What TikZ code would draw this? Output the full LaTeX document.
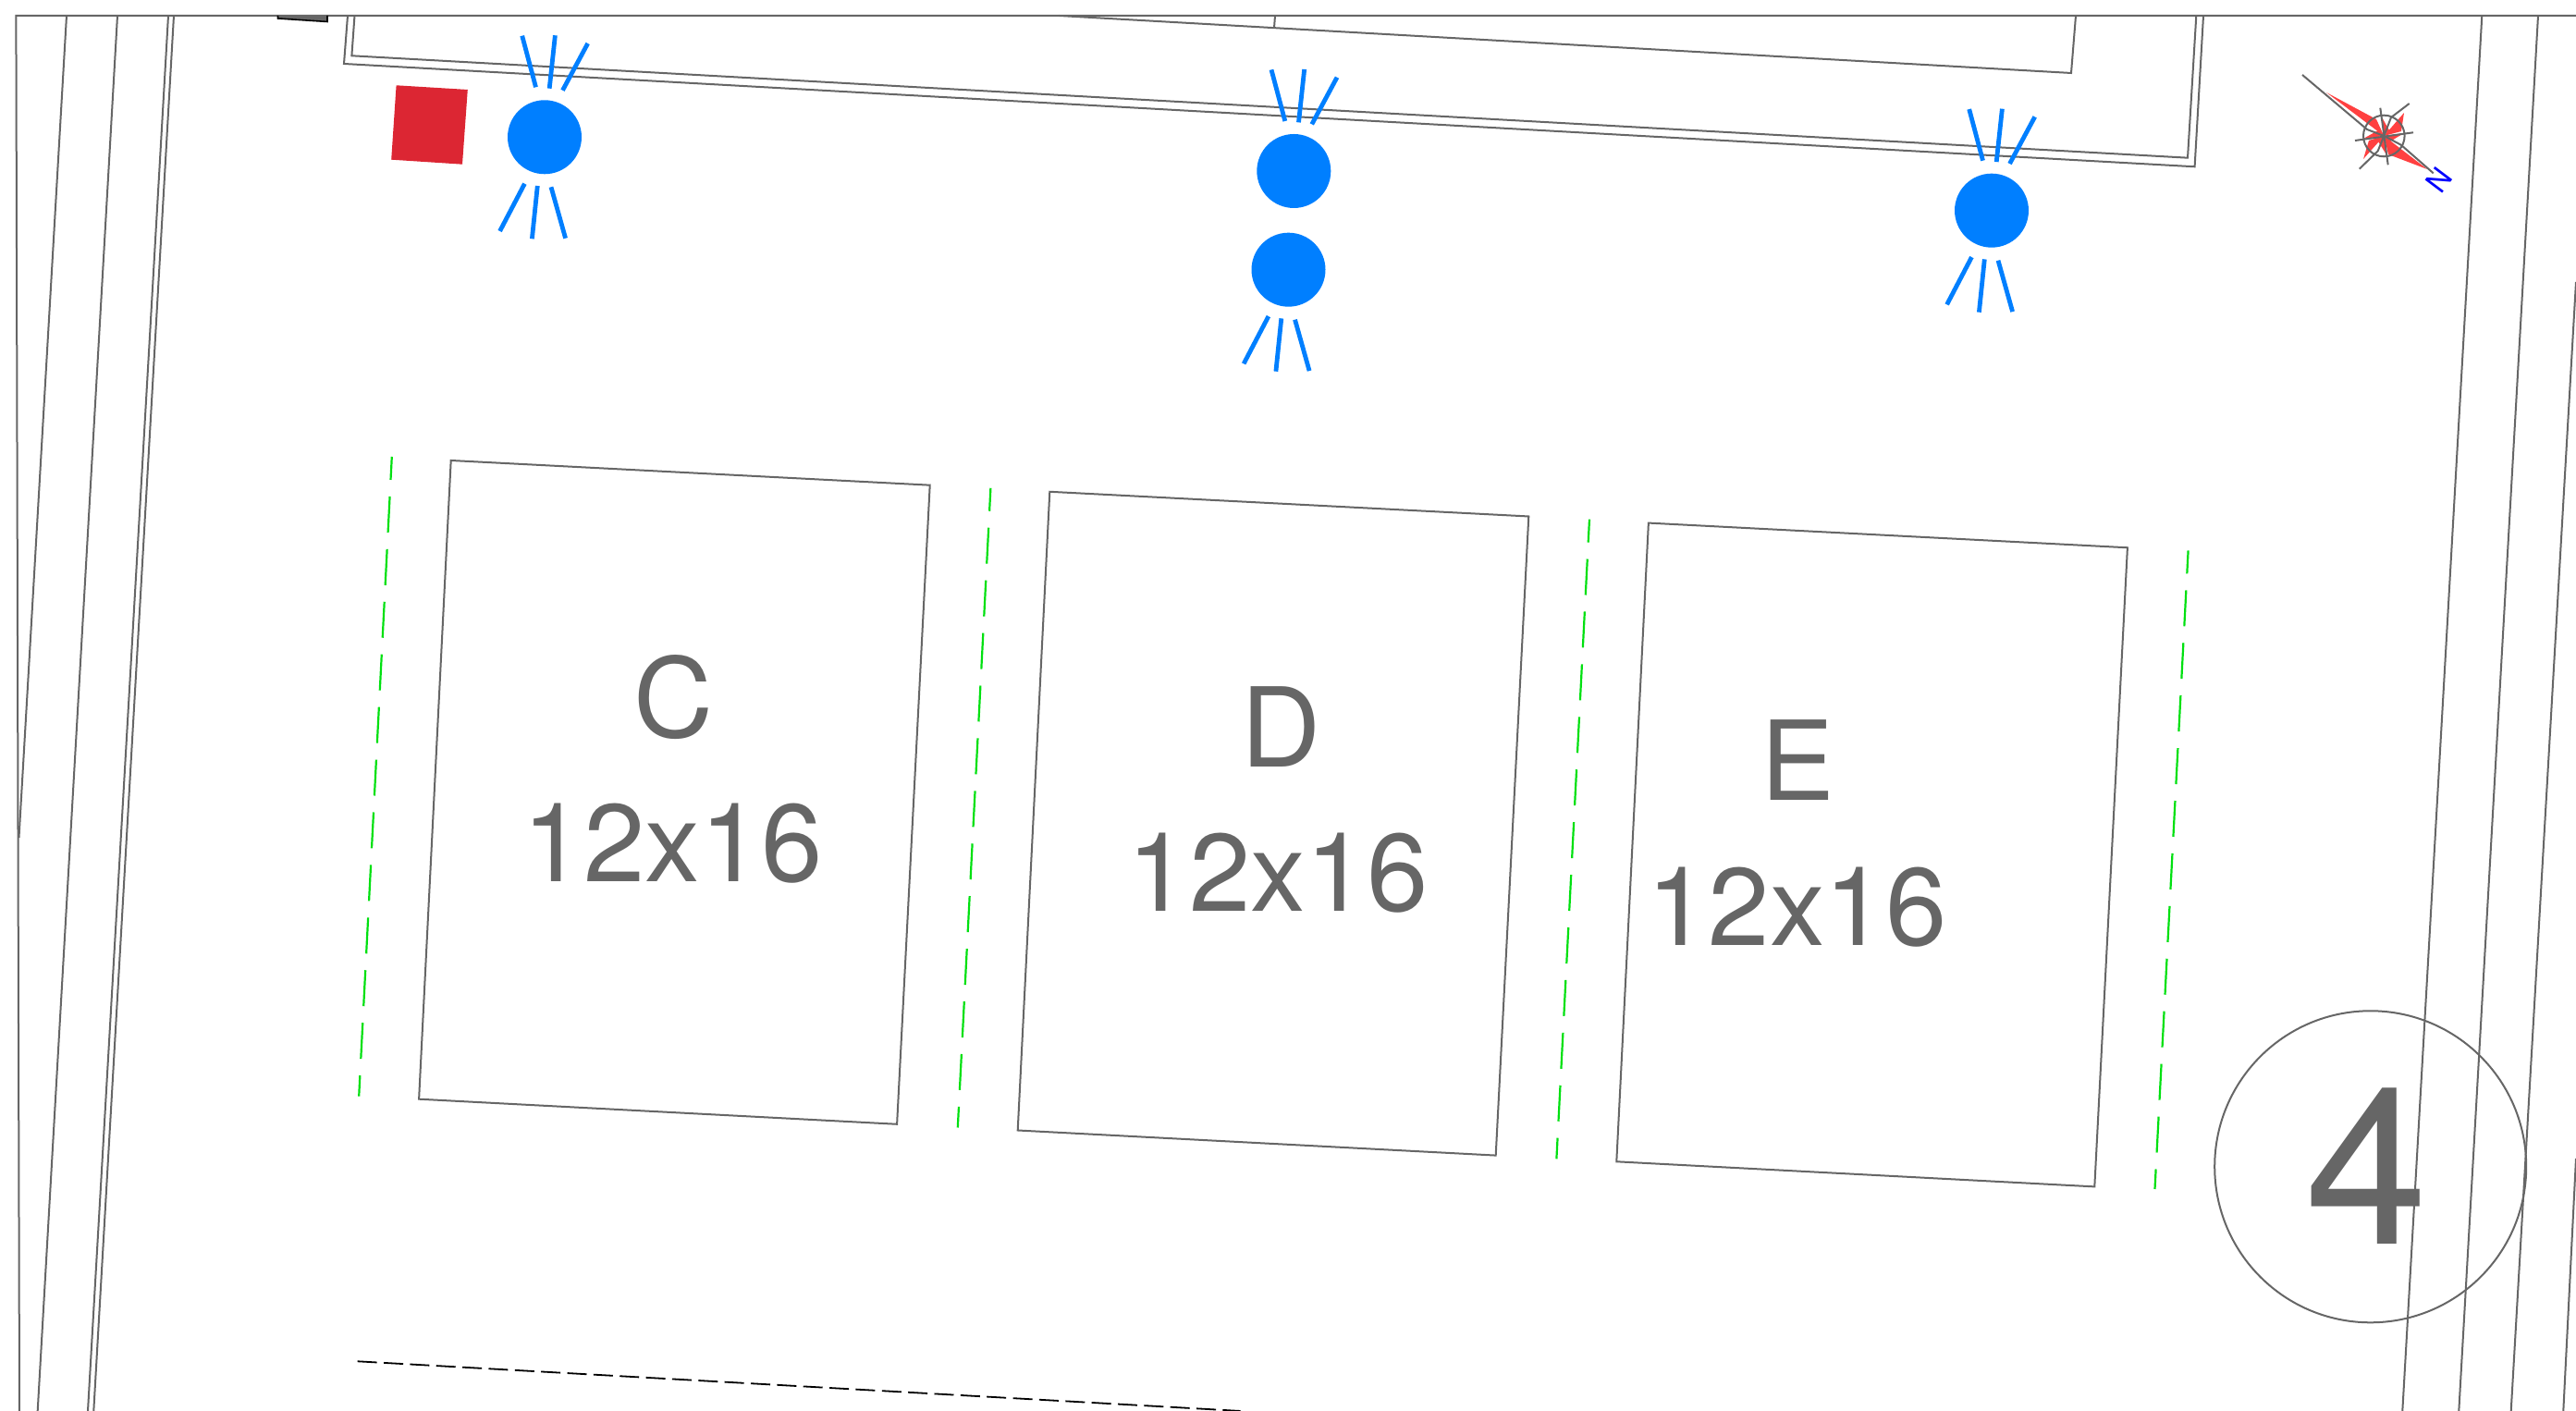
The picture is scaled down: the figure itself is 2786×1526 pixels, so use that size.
\documentclass[tikz,border=0pt]{standalone}
\usepackage{fontspec}
\setmainfont{TeX Gyre Heros}
\definecolor{planGray}{HTML}{666666}
\definecolor{lampBlue}{HTML}{007FFF}
\definecolor{markRed}{HTML}{DC2633}
\definecolor{roseRed}{HTML}{FF4040}
\definecolor{rowGreen}{HTML}{00E010}
\begin{document}
\begin{tikzpicture}[x=0.25pt,y=0.25pt,yscale=-1,xscale=1,
  planline/.style={draw=planGray,line width=0.5pt},
  lampray/.style={draw=lampBlue,line width=1.2pt},
  lampdisc/.style={fill=lampBlue},
  rowline/.style={draw=rowGreen,line width=0.55pt,dash pattern=on 9.75pt off 4.5pt,dash phase=3.5pt},
  tentlabel/.style={text=planGray,font=\fontsize{29.8}{36}\selectfont,inner sep=0pt}]
\useasboundingbox (0,0) rectangle (2786,1526);

%Straight Lines
\draw [planline] (2786,17) -- (17.4,17) -- (21,1526) ;
%Straight Lines
\draw [planline] (72,17) -- (20.5,906) ;
%Straight Lines
\draw [planline] (127,17) -- (40.7,1526) ;
%Straight Lines
\draw [planline] (182,17) -- (95,1526) ;
%Straight Lines
\draw [planline] (188,17) -- (101.3,1526) ;
%Straight Lines
\draw [planline] (2684.3,17) -- (2598.3,1526) ;
%Straight Lines
\draw [planline] (2745,17) -- (2659.3,1526) ;
%Straight Lines
\draw [planline] (2786,305) -- (2715.7,1526) ;
%Straight Lines
\draw [planline] (2786,1253) -- (2772.3,1526) ;

%Shape: Polygon
\draw [fill=planGray,draw=black,line width=0.4pt] (300.5,17) -- (300.5,20) -- (354,23.5) -- (354,17) ;

%Straight Lines
\draw [planline] (376,17) -- (372,69) -- (2373.6,180.3) -- (2383,17) ;
%Straight Lines
\draw [planline] (383.5,17) -- (380.4,60.3) -- (2366,170.7) -- (2375.3,17) ;
%Straight Lines
\draw [planline] (1145.6,17) -- (2240,79) -- (2245,17) ;
%Straight Lines
\draw [planline] (1379,17) -- (1378,30.3) ;

%Shape: Polygon
\fill [markRed] (428.6,92.3) -- (505.8,97) -- (500,177.7) -- (423.2,172.7) -- cycle ;

%Shape: Circle
\fill [lampdisc] (589,148.3) circle (40) ;
%Straight Lines
\draw [lampray] (564.7,38.7) -- (579.5,94.3) ;
\draw [lampray] (600.4,38.3) -- (594.2,95.7) ;
\draw [lampray] (635.7,47) -- (608.5,97.7) ;
\draw [lampray] (567.4,198.7) -- (540.6,250) ;
\draw [lampray] (581.3,201) -- (575.4,258.3) ;
\draw [lampray] (596,202.3) -- (611.6,257.7) ;

%Shape: Circle
\fill [lampdisc] (1399.3,185) circle (40) ;
%Straight Lines
\draw [lampray] (1375,75.4) -- (1389.8,131) ;
\draw [lampray] (1410.7,75) -- (1404.5,132.4) ;
\draw [lampray] (1446,83.7) -- (1418.8,134.4) ;

%Shape: Circle
\fill [lampdisc] (1393.5,291.7) circle (40) ;
%Straight Lines
\draw [lampray] (1371.9,342.1) -- (1345.1,393.4) ;
\draw [lampray] (1385.8,344.4) -- (1379.9,401.7) ;
\draw [lampray] (1400.5,345.7) -- (1416.1,401.1) ;

%Shape: Circle
\fill [lampdisc] (2154,227.7) circle (40) ;
%Straight Lines
\draw [lampray] (2129.7,118.1) -- (2144.5,173.7) ;
\draw [lampray] (2165.4,117.7) -- (2159.2,175.1) ;
\draw [lampray] (2200.7,126.4) -- (2173.5,177.1) ;
\draw [lampray] (2132.4,278.1) -- (2105.6,329.4) ;
\draw [lampray] (2146.3,280.4) -- (2140.4,337.7) ;
\draw [lampray] (2161,281.7) -- (2176.6,337.1) ;

%Shape: Polygon
\draw [planline] (487.7,498) -- (1005.7,524.7) -- (970.1,1215.8) -- (453.1,1188.7) -- cycle ;
%Shape: Polygon
\draw [planline] (1135.3,531.8) -- (1653.3,558.5) -- (1617.7,1249.6) -- (1100.7,1222.5) -- cycle ;
%Shape: Polygon
\draw [planline] (1782.9,565.6) -- (2300.9,592.3) -- (2265.3,1283.4) -- (1748.3,1256.3) -- cycle ;

%Straight Lines
\draw [rowline] (423.8,494) -- (388.2,1185.7) ;
%Straight Lines
\draw [rowline] (1071.4,527.8) -- (1035.8,1219.5) ;
%Straight Lines
\draw [rowline] (1719,561.6) -- (1683.4,1253.3) ;
%Straight Lines
\draw [rowline] (2366.6,595.4) -- (2330.5,1286) ;
%Straight Lines
\draw [black,line width=0.45pt,dash pattern=on 5.25pt off 1.85pt] (386.7,1472.3) -- (1341.5,1526) ;

%Shape: Circle
\draw [planline] (2563.7,1261.8) circle (168.5) ;

%Shape: Polygon
\fill [roseRed] (2516,100) -- (2570,129) -- (2578.3,147) -- cycle ;
\fill [roseRed] (2625,183) -- (2583,167) -- (2578.3,147) -- cycle ;
\fill [roseRed] (2600,122) -- (2597,142) -- (2578.3,147) -- cycle ;
\fill [roseRed] (2556,172) -- (2562,152) -- (2578.3,147) -- cycle ;
\fill [roseRed] (2575,125) -- (2584,141) -- (2578.3,147) -- cycle ;
\fill [roseRed] (2582,169) -- (2572,153) -- (2578.3,147) -- cycle ;
\fill [roseRed] (2556,150) -- (2572,141) -- (2578.3,147) -- cycle ;
\fill [roseRed] (2600,144) -- (2585,153) -- (2578.3,147) -- cycle ;
%Straight Lines
\draw [planline] (2490,81) -- (2560,140) -- (2578.3,147) ;
\draw [planline] (2631.7,187.3) -- (2596.7,156.7) -- (2578.3,147) ;
\draw [planline] (2605.7,112) -- (2586,127) -- (2578.3,147) ;
\draw [planline] (2551.7,182.7) -- (2571.7,163.3) -- (2578.3,147) ;
\draw [planline] (2574.3,116.7) -- (2582.7,178.3) ;
\draw [planline] (2547,152) -- (2610,143.3) ;
%Shape: Circle
\draw [planline] (2578.3,147) circle (22.3) ;

% Text Node
\draw (2638,194.4) node [rotate=-127,inner sep=0pt,text=blue,font=\fontsize{8}{10}\selectfont] (northMark) {N};
% Text Node
\draw (728.5,754) node [tentlabel] (tentC) {C};
% Text Node
\draw (727.6,912.4) node [tentlabel] (sizeC) {12x16};
% Text Node
\draw (1385.9,786.5) node [tentlabel] (tentD) {D};
% Text Node
\draw (1382.3,944.4) node [tentlabel] (sizeD) {12x16};
% Text Node
\draw (1943.8,822.3) node [tentlabel] (tentE) {E};
% Text Node
\draw (1943.8,980.8) node [tentlabel] (sizeE) {12x16};
% Text Node
\draw (2560,1261.5) node [inner sep=0pt,text=planGray,font=\fontsize{59.5}{70}\selectfont] (zoneNumber) {4};

\end{tikzpicture}
\end{document}
